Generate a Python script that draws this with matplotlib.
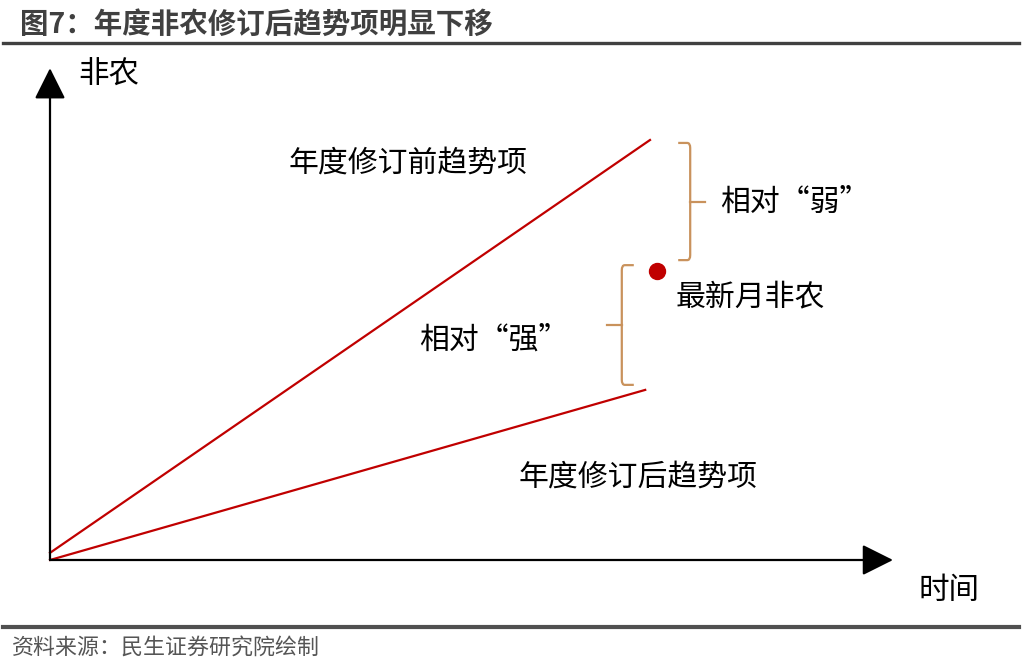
import matplotlib.pyplot as plt
from matplotlib.path import Path
from matplotlib.patches import PathPatch
from matplotlib.lines import Line2D

plt.rcParams['font.family'] = ['Noto Sans CJK SC', 'DejaVu Sans']

# schematic data (arbitrary units)
trend_before_t = [0.0, 10.0]
trend_before_v = [0.17, 10.0]
trend_after_t = [0.0, 9.92]
trend_after_v = [0.0, 4.05]
latest_t = [10.12]
latest_v = [6.88]

title = '图7：年度非农修订后趋势项明显下移'
source = '资料来源：民生证券研究院绘制'

RED = '#c00000'
BRACE = '#c9925c'
DARK = '#404040'


def brace(ax, x, y_top, y_bot, side):
    # side=+1 -> '}' , side=-1 -> '{'
    arm = 0.2 * side
    rx, ry = 0.05 * side, 0.12
    tip = 0.25 * side
    ym = (y_top + y_bot) / 2
    verts = [(x - arm, y_top), (x - rx, y_top), (x, y_top), (x, y_top - ry),
             (x, y_bot + ry), (x, y_bot), (x - rx, y_bot), (x - arm, y_bot)]
    codes = [Path.MOVETO, Path.LINETO, Path.CURVE3, Path.CURVE3,
             Path.LINETO, Path.CURVE3, Path.CURVE3, Path.LINETO]
    ax.add_patch(PathPatch(Path(verts, codes), fill=False, edgecolor=BRACE, lw=1.6))
    ax.plot([x, x + tip], [ym, ym], color=BRACE, lw=1.6)


fig = plt.figure(figsize=(10.22, 6.71), dpi=100)
ax = fig.add_axes([0, 0, 1, 1])
ax.set_xlim(-50 / 60, (1022 - 50) / 60)
ax.set_ylim((560 - 671) / 42, 560 / 42)
ax.axis('off')

# axes arrows
arrow = dict(arrowstyle='-|>,head_length=0.4,head_width=0.2', mutation_scale=48,
             color='black', lw=1.6, shrinkA=0, shrinkB=0)
ax.annotate('', xy=(14.05, 0), xytext=(0, 0), arrowprops=arrow)
ax.annotate('', xy=(0, 11.71), xytext=(0, 0), arrowprops=arrow)
ax.text(0.47, 11.55, '非农', fontsize=22, ha='left', va='center')
ax.text(14.47, -0.72, '时间', fontsize=22, ha='left', va='center')

# trend lines
ax.plot(trend_before_t, trend_before_v, color=RED, lw=1.6)
ax.plot(trend_after_t, trend_after_v, color=RED, lw=1.6)
ax.plot(latest_t, latest_v, 'o', color=RED, markersize=11.5)

ax.text(5.97, 9.45, '年度修订前趋势项', fontsize=21.5, ha='center', va='center')
ax.text(9.8, 1.98, '年度修订后趋势项', fontsize=21.5, ha='center', va='center')
ax.text(7.4, 5.24, '相对“强”', fontsize=21.5, ha='center', va='center')
ax.text(11.17, 8.52, '相对“弱”', fontsize=21.5, ha='left', va='center')
ax.text(10.43, 6.26, '最新月非农', fontsize=21.5, ha='left', va='center')

brace(ax, 10.67, 9.93, 7.14, 1)
brace(ax, 9.53, 7.02, 4.17, -1)

# title, rules and source
fig.text(20 / 1022, 1 - 25 / 671, title, fontsize=20.5, fontweight='bold',
         color=DARK, ha='left', va='center')
fig.add_artist(Line2D([3 / 1022, 1019 / 1022], [1 - 43 / 671] * 2,
                      color=DARK, lw=2.4, transform=fig.transFigure))
fig.add_artist(Line2D([3 / 1022, 1019 / 1022], [1 - 627 / 671] * 2,
                      color='#505050', lw=3, transform=fig.transFigure))
fig.text(12 / 1022, 1 - 648 / 671, source, fontsize=15.8, color='#555555',
         ha='left', va='center')

fig.savefig('out.png', dpi=100)
